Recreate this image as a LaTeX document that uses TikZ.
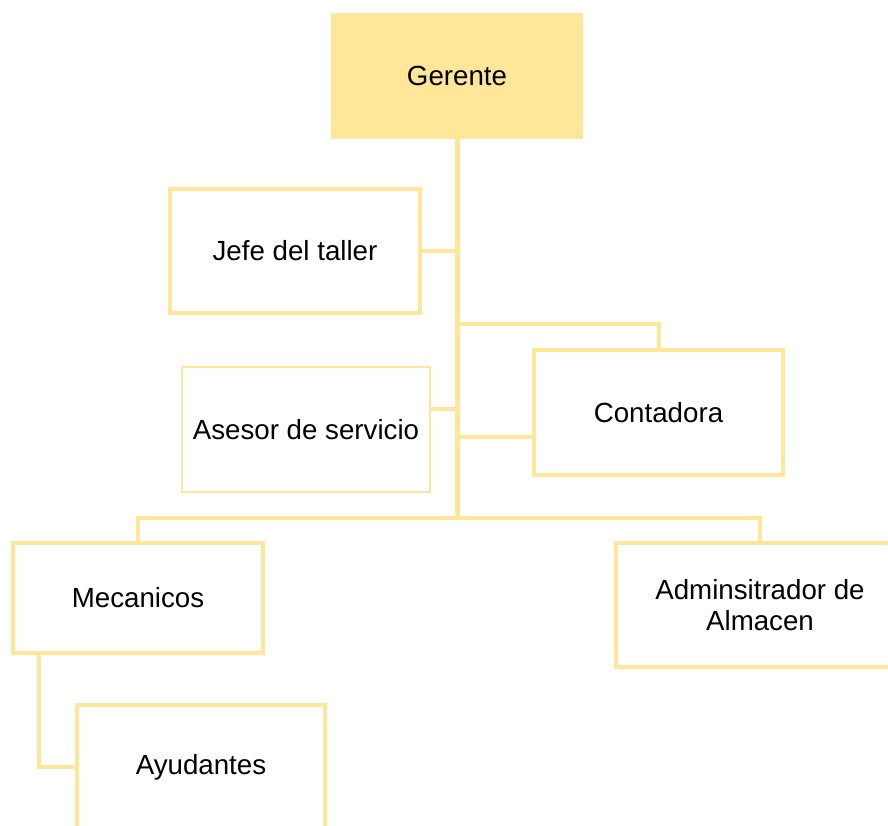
\documentclass[tikz,border=0pt]{standalone}
\usepackage{fontspec}
\setmainfont{Liberation Sans}
\usepackage{tikz}
\usetikzlibrary{positioning}
\definecolor{gold}{HTML}{FFE699}
\tikzset{x=1pt,y=-1pt,box/.style={rectangle,draw=gold,line width=4pt,fill=white,minimum width=250pt,minimum height=124pt,inner sep=0pt,align=center,font=\fontsize{27.7pt}{30.5pt}\selectfont},head/.style={box,draw=none,outer sep=0pt,fill=gold,minimum width=252pt,minimum height=126pt},link/.style={draw=gold,line width=4pt}}

\begin{document}
\begin{tikzpicture}
    \useasboundingbox (0,0) rectangle (888,825);
    \clip (0,0) rectangle (888,825);
    \node[head] (ger) at (457,76) {Gerente};
    \node[box] (jefe) at (295,251) {Jefe del taller};
    \node[box, line width=2.5pt, minimum width=248pt, minimum height=125pt] (ases) at (306,429.5) {Asesor de servicio};
    \node[box, minimum width=249pt, minimum height=125pt] (cont) at (658.5,412.5) {Contadora};
    \node[box, minimum height=110pt] (mec) at (138,598) {Mecanicos};
    \node[box, minimum width=288pt] (adm) at (760,605) {Adminsitrador de\\Almacen};
    \node[box, minimum width=248pt] (ayu) at (201,767) {Ayudantes};
    \coordinate (trunk) at (457,518);
    \draw[link, line width=5pt] (ger.south) -- (trunk);
    \draw[link] (jefe.east) -- (jefe.east -| trunk);
    \draw[link] ([yshift=20.5pt]ases.east) -- ([yshift=20.5pt]ases.east -| trunk);
    \draw[link] (trunk |- 0,324) -| (cont.north);
    \draw[link] ([yshift=-24.5pt]cont.west) -- ([yshift=-24.5pt]cont.west -| trunk);
    \draw[link] (trunk) -| (mec.north);
    \draw[link] (trunk) -| (adm.north);
    \draw[link] ([xshift=-99pt]mec.south) |- (ayu.west);
  \end{tikzpicture}
\end{document}
